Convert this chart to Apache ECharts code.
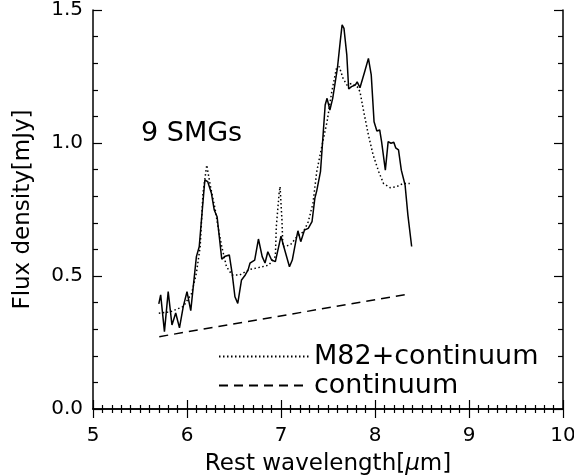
<!DOCTYPE html>
<html>
<head>
<meta charset="utf-8">
<script src="https://cdn.jsdelivr.net/npm/echarts@6/dist/echarts.min.js"></script>
<style>
    html, body { margin: 0; padding: 0; background: #fff; }
    .chart { width: 574px; height: 476px; }
</style>
</head>
<body>
<div class="chart"></div>
<script>
// 观测谱 (9 SMGs 叠加)
var obsWave = [5.70, 5.72, 5.76, 5.80, 5.84, 5.88, 5.92, 5.94, 5.96, 6.00, 6.04, 6.10, 6.13, 6.16, 6.19, 6.22, 6.26, 6.29, 6.32, 6.37, 6.40, 6.45, 6.48, 6.51, 6.54, 6.58, 6.62, 6.65, 6.67, 6.72, 6.76, 6.80, 6.83, 6.86, 6.90, 6.94, 7.00, 7.03, 7.09, 7.12, 7.16, 7.18, 7.21, 7.25, 7.29, 7.33, 7.36, 7.38, 7.42, 7.45, 7.47, 7.49, 7.52, 7.55, 7.60, 7.63, 7.65, 7.67, 7.70, 7.72, 7.75, 7.79, 7.81, 7.84, 7.89, 7.93, 7.96, 7.99, 8.02, 8.05, 8.07, 8.11, 8.14, 8.17, 8.20, 8.22, 8.25, 8.28, 8.32, 8.35, 8.39];
var obsFlux = [0.395, 0.429, 0.291, 0.441, 0.316, 0.361, 0.305, 0.305, 0.385, 0.441, 0.370, 0.573, 0.610, 0.737, 0.861, 0.855, 0.811, 0.748, 0.723, 0.563, 0.573, 0.579, 0.510, 0.422, 0.397, 0.485, 0.504, 0.523, 0.548, 0.560, 0.639, 0.573, 0.549, 0.591, 0.560, 0.554, 0.650, 0.610, 0.535, 0.560, 0.635, 0.670, 0.629, 0.673, 0.679, 0.704, 0.792, 0.820, 0.892, 1.042, 1.143, 1.168, 1.124, 1.168, 1.281, 1.381, 1.444, 1.431, 1.331, 1.203, 1.212, 1.218, 1.230, 1.208, 1.268, 1.318, 1.256, 1.080, 1.045, 1.049, 1.005, 0.898, 1.005, 0.999, 1.003, 0.982, 0.974, 0.898, 0.842, 0.729, 0.611];
// M82 + 连续谱 模板
var m82Wave = [5.70, 5.82, 5.96, 6.05, 6.10, 6.14, 6.17, 6.21, 6.25, 6.30, 6.33, 6.37, 6.42, 6.48, 6.56, 6.67, 6.78, 6.87, 6.94, 6.95, 6.98, 6.99, 7.01, 7.02, 7.10, 7.17, 7.24, 7.29, 7.34, 7.38, 7.43, 7.49, 7.54, 7.59, 7.62, 7.66, 7.70, 7.75, 7.81, 7.84, 7.88, 7.93, 7.98, 8.04, 8.09, 8.16, 8.23, 8.30, 8.37];
var m82Flux = [0.360, 0.365, 0.385, 0.435, 0.511, 0.610, 0.811, 0.917, 0.836, 0.750, 0.685, 0.610, 0.535, 0.504, 0.504, 0.525, 0.533, 0.541, 0.573, 0.685, 0.811, 0.836, 0.711, 0.610, 0.617, 0.648, 0.667, 0.704, 0.773, 0.892, 0.980, 1.080, 1.193, 1.281, 1.287, 1.243, 1.218, 1.224, 1.212, 1.193, 1.118, 1.030, 0.955, 0.892, 0.848, 0.832, 0.836, 0.848, 0.848];
// 连续谱
var contWave = [5.705, 8.337];
var contFlux = [0.272, 0.431];

(function () {
    var myChart = echarts.init(document.querySelector('.chart'), null, { renderer: 'canvas' });
    var font = 'DejaVu Sans';

    function zip(xs, ys) {
        return xs.map(function (x, i) { return [x, ys[i]]; });
    }

    // 坐标轴公共样式, 刻度朝内
    var axisLine = { lineStyle: { color: '#000', width: 1.5 } };
    function xAx(pos, showLabel) {
        return {
            type: 'value', position: pos, min: 5, max: 10, interval: 1,
            axisLine: axisLine,
            axisTick: { inside: true, length: 9, lineStyle: { color: '#000', width: 1.2 } },
            minorTick: { show: true, splitNumber: 10, length: 4, lineStyle: { color: '#000', width: 1.2 } },
            splitLine: { show: false },
            axisLabel: { show: showLabel, color: '#000', fontSize: 20, fontFamily: font, margin: 17 }
        };
    }
    function yAx(pos, showLabel) {
        return {
            type: 'value', position: pos, min: 0, max: 1.5, interval: 0.5,
            axisLine: axisLine,
            axisTick: { inside: true, length: 9, lineStyle: { color: '#000', width: 1.2 } },
            minorTick: { show: true, splitNumber: 5, length: 5, lineStyle: { color: '#000', width: 1.2 } },
            splitLine: { show: false },
            axisLabel: {
                show: showLabel, color: '#000', fontSize: 20, fontFamily: font, margin: 10,
                formatter: function (v) { return v.toFixed(1); }
            }
        };
    }

    var x0 = xAx('bottom', true);
    x0.name = 'Rest wavelength[{i|μ}m]';
    x0.nameLocation = 'middle';
    x0.nameGap = 44;
    x0.nameTextStyle = { color: '#000', fontSize: 23, fontFamily: font, rich: { i: { fontStyle: 'italic', fontSize: 23, fontFamily: font } } };

    var y0 = yAx('left', true);
    y0.name = 'Flux density[mJy]';
    y0.nameLocation = 'middle';
    y0.nameGap = 58;
    y0.nameTextStyle = { color: '#000', fontSize: 23, fontFamily: font };

    var option = {
        backgroundColor: '#fff',
        animation: false,
        grid: { left: 93, right: 11, top: 10, bottom: 67, outerBoundsMode: 'none', containLabel: false },
        xAxis: [x0, xAx('top', false)],
        yAxis: [y0, yAx('right', false)],
        legend: {
            data: ['M82+continuum', 'continuum'],
            orient: 'vertical',
            left: 213, top: 338,
            itemWidth: 90, itemHeight: 14, itemGap: 2,
            itemStyle: { opacity: 0 },
            textStyle: { color: '#000', fontSize: 27, fontFamily: font, lineHeight: 27 }
        },
        graphic: [{
            type: 'text', left: 141, top: 120,
            style: { text: '9 SMGs', fill: '#000', font: '27px "DejaVu Sans"' }
        }],
        series: [{
            name: 'observed', type: 'line', symbol: 'none',
            lineStyle: { color: '#000', width: 1.5 },
            data: zip(obsWave, obsFlux)
        }, {
            name: 'M82+continuum', type: 'line', symbol: 'none',
            itemStyle: { color: '#000' },
            lineStyle: { color: '#000', width: 1.5, type: [1.5, 2.5] },
            data: zip(m82Wave, m82Flux)
        }, {
            name: 'continuum', type: 'line', symbol: 'none',
            itemStyle: { color: '#000' },
            lineStyle: { color: '#000', width: 1.5, type: [9, 6] },
            data: zip(contWave, contFlux)
        }]
    };
    myChart.setOption(option);
    window.addEventListener('resize', function () {
        myChart.resize();
    });
})();
</script>
</body>
</html>
